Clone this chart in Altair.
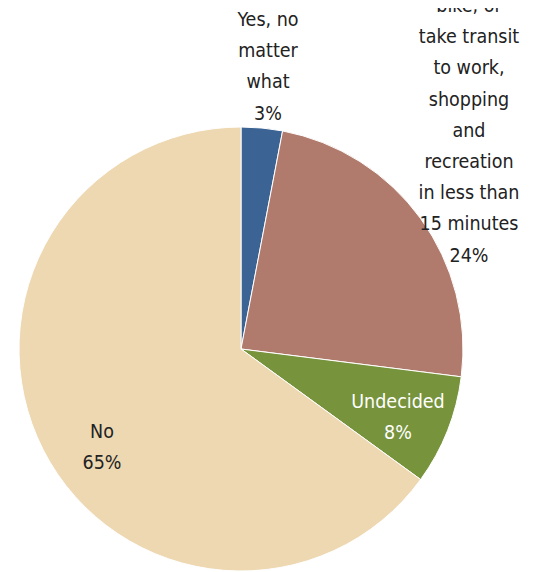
import altair as alt
import pandas as pd

categories = [
    "Yes, no matter what",
    "bike, or take transit to work, shopping and recreation in less than 15 minutes",
    "Undecided",
    "No",
]
values = [3, 24, 8, 65]
colors = ["#3B6393", "#B07B6C", "#77933C", "#EDD8B2"]
label_lines = [
    ["Yes, no", "matter", "what"],
    ["bike, or", "take transit", "to work,", "shopping", "and", "recreation", "in less than", "15 minutes"],
    ["Undecided"],
    ["No"],
]

df = pd.DataFrame({"category": categories, "value": values, "idx": list(range(len(values)))})

W, H = 522, 564
CX, CY, R = 233, 341, 222
FONT = "'Liberation Sans Narrow', 'DejaVu Sans Condensed', 'Roboto Condensed', 'Noto Sans', sans-serif"

pie = alt.Chart(df).mark_arc(radius=R, stroke="white", strokeWidth=1).encode(
    theta=alt.Theta("value:Q", stack=True),
    order=alt.Order("idx:Q"),
    color=alt.Color("category:N", scale=alt.Scale(domain=categories, range=colors), legend=None),
    x=alt.value(CX),
    y=alt.value(CY),
)

# label anchor (chart coords): centre x, first-line baseline y, colour
label_style = [
    (260, 18, "#222222"),
    (461, 4, "#222222"),
    (390, 400, "white"),
    (94, 430, "#222222"),
]

layers = [pie]
for i, (lines, v) in enumerate(zip(label_lines, values)):
    x, y, c = label_style[i]
    txt = "\n".join(lines + [f"{v}%"])
    ldf = pd.DataFrame({"label": [txt]})
    layers.append(
        alt.Chart(ldf).mark_text(
            font=FONT, fontSize=19.5, lineBreak="\n", lineHeight=31.2,
            align="center", baseline="alphabetic", color=c,
        ).encode(text="label:N", x=alt.value(x), y=alt.value(y))
    )

chart = alt.layer(*layers).properties(
    width=W, height=H, autosize=alt.AutoSizeParams(type="none"), padding=0
).configure_view(stroke=None)

chart.save("out.html", embed_options={"renderer": "svg", "actions": False})
